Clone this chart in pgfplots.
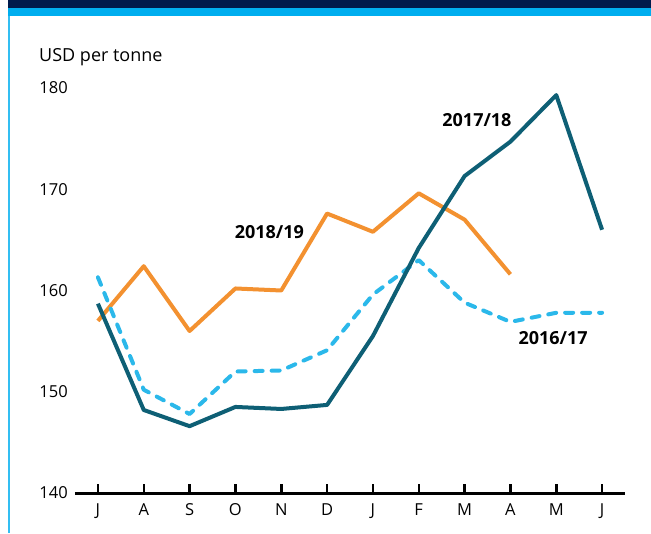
\documentclass[border=0pt]{standalone}
\usepackage{fontspec}
\setmainfont{Open Sans}
\usepackage{pgfplots}
\pgfplotsset{compat=1.18}
\definecolor{teal18}{HTML}{0E5F75}
\definecolor{orange19}{HTML}{F39130}
\definecolor{blue17}{HTML}{2BB8EA}
\definecolor{navy}{HTML}{001A4B}
\definecolor{brightblue}{HTML}{00AEEF}
\definecolor{gridgray}{HTML}{C8C8C8}
\begin{document}
\begin{tikzpicture}[x=1pt,y=1pt]
\path (0,0) rectangle (651,533);
\fill[navy] (8,525) rectangle (651,533);
\fill[brightblue] (8,517) rectangle (651,525);
\draw[brightblue!80, line width=1.5pt] (8.75,0) -- (8.75,517);
\node[anchor=west, inner sep=0pt] at (39,476) {\fontsize{18}{21}\selectfont USD per tonne};
\begin{axis}[
  anchor=south west, at={(75pt,40pt)},
  scale only axis, width=550pt, height=405pt,
  xmin=-0.5, xmax=11.5, ymin=140, ymax=180,
  clip=false,
  axis line style={draw=none},
  axis x line*=bottom,
  axis y line=none,
  xtick={0,...,11},
  xticklabels={J,A,S,O,N,D,J,F,M,A,M,J},
  ytick={150,160,170,180},
  ymajorgrids=true,
  grid style={gridgray, line width=1.5pt},
  tick align=inside,
  major tick length=9pt,
  xtick style={black, line width=2.5pt},
  ytick style={draw=none},
  /pgf/number format/assume math mode=true,
  ticklabel style={font=\fontsize{16.5}{19}\selectfont},
  xticklabel style={yshift=-7pt},
  every axis plot/.append style={line width=4pt, line join=round},
]
\draw[black, line width=3pt] (axis cs:-0.5,140) -- (axis cs:11.5,140);
\foreach \v in {140,150,160,170,180} {
  \edef\tmp{\noexpand\node[anchor=east, inner sep=0pt, font=\noexpand\fontsize{16.5}{19}\noexpand\selectfont] at (axis cs:-0.5,\v) [xshift=-7pt] {\v};}
  \tmp
}
\addplot[orange19] coordinates {
(0,157.0) (1,162.4) (2,156.0) (3,160.2) (4,160.0) (5,167.6) (6,165.8) (7,169.6) (8,167.0) (9,161.6)};
\addplot[blue17, dash pattern=on 8pt off 9pt, line cap=round] coordinates {
(0,161.3) (1,150.2) (2,147.8) (3,152.0) (4,152.1) (5,154.1) (6,159.6) (7,163.0) (8,158.8) (9,156.9) (10,157.8) (11,157.8)};
\addplot[teal18] coordinates {
(0,158.7) (1,148.2) (2,146.6) (3,148.5) (4,148.3) (5,148.7) (6,155.5) (7,164.2) (8,171.3) (9,174.7) (10,179.3) (11,166.0)};
\node[font=\fontsize{18}{21}\selectfont\bfseries] at (axis cs:3.74,165.8) {2018/19};
\node[font=\fontsize{18}{21}\selectfont\bfseries] at (axis cs:8.27,176.8) {2017/18};
\node[font=\fontsize{18}{21}\selectfont\bfseries] at (axis cs:9.93,155.3) {2016/17};
\end{axis}
\end{tikzpicture}
\end{document}
